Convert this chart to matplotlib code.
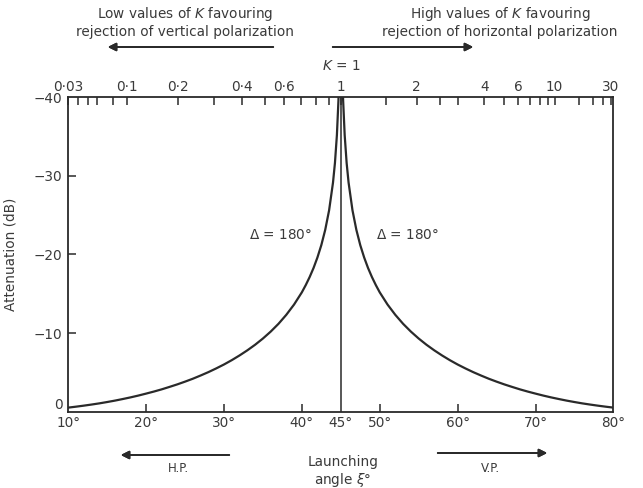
import numpy as np
import matplotlib.pyplot as plt

plt.rcParams['font.family'] = ['DejaVu Sans']

# attenuation curves for delta = 180 deg (dB)
angle_lo = [10, 11, 12, 13, 14, 15, 16, 17, 18, 19, 20, 21, 22, 23, 24, 25,
            26, 27, 28, 29, 30, 31, 32, 33, 34, 35, 36, 37, 38, 39, 40, 40.5,
            41, 41.5, 42, 42.5, 43, 43.5, 44, 44.25, 44.5, 44.7, 44.8]
atten_lo = [-0.54, -0.66, -0.79, -0.93, -1.08, -1.25, -1.43, -1.63, -1.84,
            -2.07, -2.32, -2.58, -2.86, -3.17, -3.49, -3.84, -4.21, -4.62,
            -5.05, -5.52, -6.02, -6.57, -7.17, -7.82, -8.53, -9.32, -10.2,
            -11.19, -12.33, -13.64, -15.19, -16.11, -17.13, -18.28, -19.62,
            -21.19, -23.13, -25.62, -29.14, -31.64, -35.17, -39.6, -43.1]
angle_hi = [45.2, 45.3, 45.5, 45.75, 46, 46.5, 47, 47.5, 48, 48.5, 49, 49.5,
            50, 51, 52, 53, 54, 55, 56, 57, 58, 59, 60, 61, 62, 63, 64, 65, 66,
            67, 68, 69, 70, 71, 72, 73, 74, 75, 76, 77, 78, 79, 80]
atten_hi = [-43.1, -39.6, -35.17, -31.64, -29.14, -25.62, -23.13, -21.19,
            -19.62, -18.28, -17.13, -16.11, -15.19, -13.64, -12.33, -11.19,
            -10.2, -9.32, -8.53, -7.82, -7.17, -6.57, -6.02, -5.52, -5.05,
            -4.62, -4.21, -3.84, -3.49, -3.17, -2.86, -2.58, -2.32, -2.07,
            -1.84, -1.63, -1.43, -1.25, -1.08, -0.93, -0.79, -0.66, -0.54]

bottom_labels = ['10°', '20°', '30°', '40°', '45°', '50°', '60°', '70°', '80°']
bottom_label_pos = [10, 20, 30, 40, 45, 50, 60, 70, 80]
y_ticks = [0, -10, -20, -30, -40]
y_labels = ['0', '−10', '−20', '−30', '−40']

# K = tan^2(xi) scale on the top edge
k_labels = ['0·03', '0·1', '0·2', '0·4', '0·6', '1', '2', '4', '6', '10', '30']
k_labeled = [0.03, 0.1, 0.2, 0.4, 0.6, 1, 2, 4, 6, 10, 30]
k_minor = [0.04, 0.05, 0.06, 0.08, 0.3, 0.5, 0.7, 0.8, 0.9, 1.5, 2.5, 3,
           5, 7, 8, 9, 15, 20, 25]


def k_to_angle(k):
    # end values sit on the frame edges
    return np.clip(np.degrees(np.arctan(np.sqrt(np.array(k)))), 10, 80)


ink = '#2a2a2a'
txt = '#3a3a3a'
fs = 9.8

fig = plt.figure(figsize=(6.43, 4.88), dpi=100)
ax = fig.add_axes([0.106, 0.156, 0.848, 0.645])

ax.plot(angle_lo, atten_lo, color=ink, lw=1.6)
ax.plot(angle_hi, atten_hi, color=ink, lw=1.6)
ax.axvline(45, color=ink, lw=1.1)

ax.set_xlim(10, 80)
ax.set_ylim(0, -40)

for s in ax.spines.values():
    s.set_color(ink)
    s.set_linewidth(1.3)

ax.set_xticks(bottom_label_pos)
ax.set_xticklabels(bottom_labels)
ax.tick_params(axis='x', direction='in', length=6, width=1.1, color=ink,
               labelsize=fs, labelcolor=txt, pad=3)
for t, pos in zip(ax.xaxis.get_major_ticks(), bottom_label_pos):
    if pos in (10, 80, 45):
        t.tick1line.set_visible(False)

ax.set_yticks(y_ticks)
ax.set_yticklabels(y_labels)
ax.tick_params(axis='y', direction='in', length=6, width=1.1, color=ink,
               labelsize=fs, labelcolor=txt, pad=4)
for t in ax.yaxis.get_major_ticks()[::4]:
    t.tick1line.set_visible(False)
ax.get_yticklabels()[0].set_va('bottom')

ax.set_ylabel('Attenuation (dB)', fontsize=fs, color=txt, labelpad=12)

top = ax.secondary_xaxis('top')
top.set_xticks(k_to_angle(k_labeled))
top.set_xticklabels(k_labels)
top.set_xticks(k_to_angle(k_minor), minor=True)
top.tick_params(axis='x', which='both', direction='in', length=6, width=1.1,
                color=ink, labelsize=fs, labelcolor=txt, pad=2)
top.spines['top'].set_visible(False)

ax.text(45, -43.9, '$K$ = 1', ha='center', va='center', fontsize=fs,
        color=txt)

ax.text(37.2, -22.5, '$\\Delta$ = 180°', ha='center', va='center',
        fontsize=fs, color=txt)
ax.text(53.6, -22.5, '$\\Delta$ = 180°', ha='center', va='center',
        fontsize=fs, color=txt)


# labels and arrows placed in figure coordinates
def fx(px):
    return px / 643


def fy(py):
    return 1 - py / 488


fig.text(fx(185), fy(22), 'Low values of $K$ favouring\nrejection of vertical polarization',
         ha='center', va='center', fontsize=fs, color=txt, linespacing=1.1)
fig.text(fx(500), fy(22), 'High values of $K$ favouring\nrejection of horizontal polarization',
         ha='center', va='center', fontsize=fs, color=txt, linespacing=1.1)

arrow = dict(arrowstyle='-|>', color=ink, lw=1.3, mutation_scale=12)
fig.add_artist(plt.annotate('', xy=(fx(105), fy(47)), xytext=(fx(276), fy(47)),
                            xycoords='figure fraction', arrowprops=arrow))
fig.add_artist(plt.annotate('', xy=(fx(476), fy(47)), xytext=(fx(330), fy(47)),
                            xycoords='figure fraction', arrowprops=arrow))
fig.add_artist(plt.annotate('', xy=(fx(118), fy(455)), xytext=(fx(232), fy(455)),
                            xycoords='figure fraction', arrowprops=arrow))
fig.add_artist(plt.annotate('', xy=(fx(550), fy(453)), xytext=(fx(435), fy(453)),
                            xycoords='figure fraction', arrowprops=arrow))

fig.text(fx(178), fy(468), 'H.P.', ha='center', va='center', fontsize=8.5,
         color=txt)
fig.text(fx(490), fy(468), 'V.P.', ha='center', va='center', fontsize=8.5,
         color=txt)
fig.text(fx(343), fy(472), 'Launching\nangle $\\xi$°', ha='center',
         va='center', fontsize=fs, color=txt, linespacing=1.1)

fig.savefig('out.png', dpi=100, facecolor='white')
